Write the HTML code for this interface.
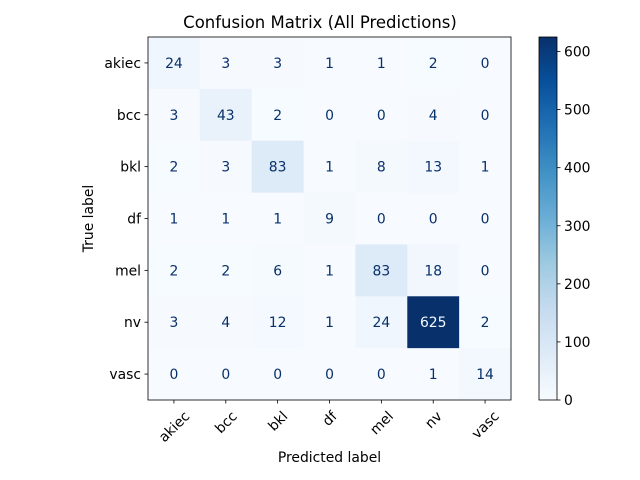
<!DOCTYPE html>
<html><head><meta charset="utf-8"><style>body{margin:0;background:#fff}svg{display:block;font-family:"DejaVu Sans","Liberation Sans",sans-serif}</style></head>
<body>
<svg id="c" width="640" height="480"></svg>
<script>
const labels=["akiec","bcc","bkl","df","mel","nv","vasc"];
const matrix=[
[24,3,3,1,1,2,0],
[3,43,2,0,0,4,0],
[2,3,83,1,8,13,1],
[1,1,1,9,0,0,0],
[2,2,6,1,83,18,0],
[3,4,12,1,24,625,2],
[0,0,0,0,0,1,14]];
const cbTicks=[0,100,200,300,400,500,600];
const stops=["#f7fbff","#deebf7","#c6dbef","#9ecae1","#6baed6","#4292c6","#2171b5","#08519c","#08306b"];
const NS="http://www.w3.org/2000/svg",svg=document.getElementById('c');
function mk(t,a,txt){const e=document.createElementNS(NS,t);for(const k in a)e.setAttribute(k,a[k]);if(txt!==undefined)e.textContent=txt;svg.appendChild(e);return e;}
function hex(h){return[1,3,5].map(i=>parseInt(h.substr(i,2),16));}
function cmap(t){t=Math.max(0,Math.min(1,t));const p=t*8,i=Math.min(7,Math.floor(p)),f=p-i;const a=hex(stops[i]),b=hex(stops[i+1]);return"rgb("+a.map((v,k)=>Math.round(v+(b[k]-v)*f)).join(",")+")";}
const L=148,T=37,R=511,B=400,n=labels.length,cw=(R-L)/n,ch=(B-T)/n;
let vmax=0,vmin=Infinity;matrix.forEach(r=>r.forEach(v=>{vmax=Math.max(vmax,v);vmin=Math.min(vmin,v);}));
const xs=j=>L+cw*(j+0.5),ys=i=>T+ch*(i+0.5);
mk('text',{x:320,y:28,'text-anchor':'middle','font-size':16.5,fill:'#000',},'Confusion Matrix (All Predictions)');
matrix.forEach((row,i)=>row.forEach((v,j)=>{
 let r=mk('rect',{x:L+cw*j,y:T+ch*i,width:cw+0.5,height:ch+0.5,fill:cmap((v-vmin)/(vmax-vmin))});
 
 
}));
matrix.forEach((row,i)=>row.forEach((v,j)=>{
 let t=mk('text',{x:xs(j),y:ys(i)+5,'text-anchor':'middle','font-size':13.9,fill:v>(vmax+vmin)/2?'#f7fbff':'#08306b'},String(v));
 
 
}));
mk('rect',{x:L,y:T,width:R-L,height:B-T,fill:'none',stroke:'#000','stroke-width':0.8,});
labels.forEach((lb,k)=>{
 mk('line',{x1:L,x2:L-3.5,y1:ys(k),y2:ys(k),stroke:'#000','stroke-width':0.8});
 let t=mk('text',{x:L-7,y:ys(k)+5,'text-anchor':'end','font-size':13.9},lb);
 
 
 mk('line',{x1:xs(k),x2:xs(k),y1:B,y2:B+3.5,stroke:'#000','stroke-width':0.8});
 let u=mk('text',{x:xs(k),y:0,'text-anchor':'middle','font-size':13.9},lb);
 
 
 const w=u.getComputedTextLength();
 const cx=xs(k),cyc=408+(w*0.707+11)/2;
 u.setAttribute('y',cyc+5);
 u.setAttribute('transform','rotate(-45 '+cx+' '+cyc+')');
});
mk('text',{x:(L+R)/2,y:462,'text-anchor':'middle','font-size':13.9,},'Predicted label');
mk('text',{x:93,y:(T+B)/2,'text-anchor':'middle','font-size':13.9,transform:'rotate(-90 93 '+(T+B)/2+')',},'True label');
const CL=539,CR=557;
const defs=mk('defs',{});const g=document.createElementNS(NS,'linearGradient');g.setAttribute('id','gr');g.setAttribute('x1',0);g.setAttribute('y1',1);g.setAttribute('x2',0);g.setAttribute('y2',0);defs.appendChild(g);
stops.forEach((s,k)=>{const st=document.createElementNS(NS,'stop');st.setAttribute('offset',k/8);st.setAttribute('stop-color',s);g.appendChild(st);});
mk('rect',{x:CL,y:T,width:CR-CL,height:B-T,fill:'url(#gr)',stroke:'#000','stroke-width':0.8,});
const cy=v=>B-(v-vmin)/(vmax-vmin)*(B-T);
cbTicks.forEach(v=>{
 mk('line',{x1:CR,x2:CR+3.5,y1:cy(v),y2:cy(v),stroke:'#000','stroke-width':0.8});
 let t=mk('text',{x:CR+7,y:cy(v)+5,'font-size':13.9},String(v));
 
 
});
</script>
</body></html>
